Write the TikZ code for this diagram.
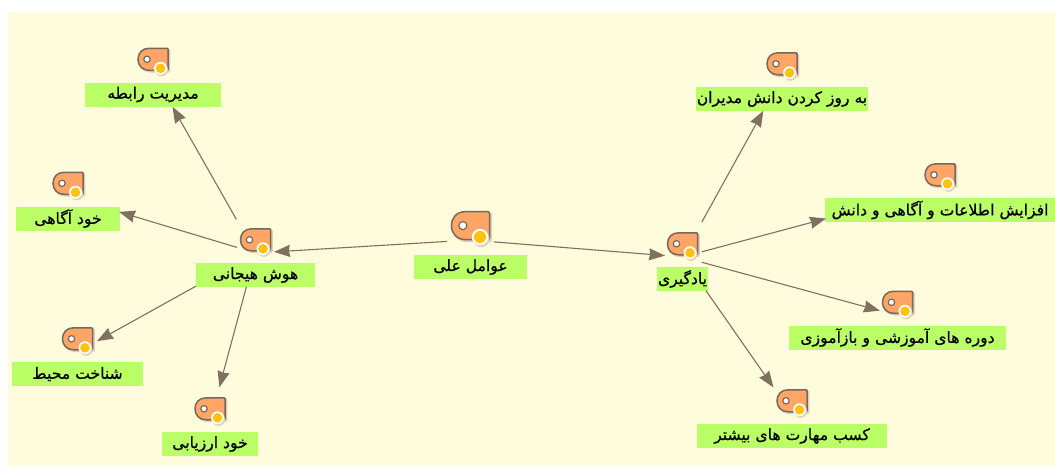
\documentclass[tikz,border=0pt]{standalone}
\usepackage{fontspec}
\usetikzlibrary{arrows.meta}
\TeXXeTstate=1
\newfontfamily\arabicfont[Script=Arabic,FakeBold=0.6]{DejaVu Sans}
\newcommand{\fa}[1]{\arabicfont\fontsize{15.6}{17}\selectfont\raisebox{-2pt}{\beginR #1\endR}}
\definecolor{sheet}{HTML}{FFFBDD}
\definecolor{labelgreen}{HTML}{BBFF66}
\definecolor{tagfill}{HTML}{FFA566}
\definecolor{tagline}{HTML}{77695A}
\definecolor{tagshade}{HTML}{DDCFB8}
\definecolor{dotfill}{HTML}{FFC20E}
\definecolor{linkline}{HTML}{7F705F}
\tikzset{
    topic/.style={fill=labelgreen, inner sep=0pt, minimum height=24pt, text=black},
    link/.style={draw=linkline, line width=1.1pt, -{Stealth[inset=1pt,length=16pt,width=12pt]}},
    tagbody/.style={insert path={(-4,-34) -- (14,-34) -- (15,-33) -- (15,-13) -- (14,-12) -- (-4,-12)
        .. controls (-11,-12) and (-15,-17) .. (-15,-23)
        .. controls (-15,-29) and (-11,-34) .. (-4,-34) -- cycle}},
    tagicon/.pic={
        \path[fill=tagshade, draw=tagshade, line width=1.5pt, shift={(1.5,1.5)}, tagbody];
        \path[fill=tagfill, draw=tagline, line width=1.5pt, tagbody];
        \path[fill=white, draw=tagline, line width=1.2pt] (-6,-23) circle (3.2pt);
        \path[fill=tagshade] (8.5,-12.5) circle (6.5pt);
        \path[fill=white] (7.5,-14) circle (6.5pt);
        \path[fill=dotfill] (7.5,-14) circle (4.8pt);
    },
}
\begin{document}
\begin{tikzpicture}[x=1pt, y=-1pt]
    \useasboundingbox (0,0) rectangle (1055,466);
    \fill[sheet] (8,12) rectangle (1055,466);
    % labels
    \node[topic, minimum width=113pt] (cause) at (470.5,267) {\fa{عوامل علی}};
    \node[topic, minimum width=119pt] (emotion) at (255.5,275) {\fa{هوش هیجانی}};
    \node[topic, minimum width=136pt] (relation) at (153,94.5) {\fa{مدیریت رابطه}};
    \node[topic, minimum width=104pt] (aware) at (68,218.5) {\fa{خود آگاهی}};
    \node[topic, minimum width=131pt] (environ) at (77.5,374) {\fa{شناخت محیط}};
    \node[topic, minimum width=96pt] (assess) at (210,444) {\fa{خود ارزیابی}};
    \node[topic, minimum width=51pt] (learn) at (682.5,279) {\fa{یادگیری}};
    \node[topic, minimum width=172pt] (update) at (782,99) {\fa{به روز کردن دانش مدیران}};
    \node[topic, minimum width=230pt] (inform) at (940,210) {\fa{افزایش اطلاعات و آگاهی و دانش}};
    \node[topic, minimum width=217pt] (course) at (897.5,337.5) {\fa{دوره های آموزشی و بازآموزی}};
    \node[topic, minimum width=190pt] (skill) at (792,436) {\fa{کسب مهارت های بیشتر}};
    % tag icons
    \pic[scale=1.27] at (cause.north) {tagicon};
    \foreach \lab in {emotion,relation,aware,environ,assess,learn,update,inform,course,skill}
        \pic at (\lab.north) {tagicon};
    % hubs the links aim at
    \coordinate (causehub) at ([yshift=27pt]cause.center);
    \foreach \lab in {emotion,relation,aware,environ,assess,learn,update,inform,course,skill}
        \coordinate (\lab hub) at ([yshift=22pt]\lab.center);
    % links
    \foreach \from/\to/\sa/\sb in {cause/emotion/23.5/18.5, cause/learn/23.5/17.5,
        emotion/relation/38.7/39.4, emotion/aware/19.4/53.3,
        emotion/environ/68/22.4, emotion/assess/35/36,
        learn/update/40/38.5, learn/inform/20/118,
        learn/course/20/18.3, learn/skill/41/32.5}
        \draw[link, shorten <=\sa pt, shorten >=\sb pt] (\from hub) -- (\to hub);
\end{tikzpicture}
\end{document}
